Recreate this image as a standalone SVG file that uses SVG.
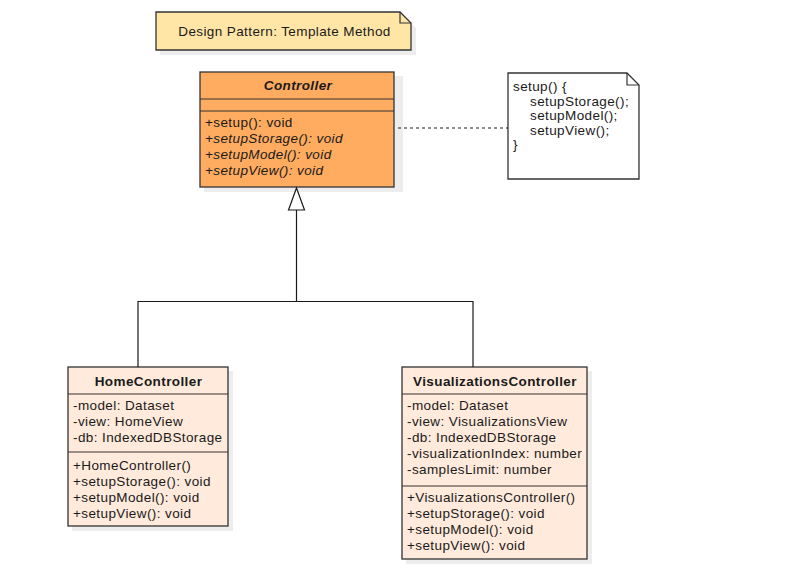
<svg xmlns="http://www.w3.org/2000/svg" width="787" height="579" viewBox="0 0 787 579">
  <defs>
    <style>
      text { font-family: "Liberation Sans", Arial, sans-serif; font-size: 13.5px; letter-spacing: 0.4px; fill: #1a1a1a; }
      .title { font-weight: bold; text-anchor: middle; }
      .abs { font-style: italic; }
      .box { stroke: #333333; stroke-width: 1.3; }
      .shadow { fill: #000000; opacity: 0.07; }
      .sep { stroke: #333333; stroke-width: 1; }
      .edge { fill: none; stroke: #1a1a1a; stroke-width: 1.2; }
    </style>
  </defs>
  <rect width="787" height="579" fill="#ffffff"/>

  <!-- pattern label note -->
  <g id="pattern-note">
    <path class="shadow" d="M160 16 H404 L416 28 V55 H160 Z"/>
    <path class="box" fill="#ffe6a6" d="M156 12 H400 L411 23 V50 H156 Z"/>
    <path d="M400 12 V23 H411" fill="none" stroke="#333333" stroke-width="1.2"/>
    <text x="284.5" y="36" text-anchor="middle">Design Pattern: Template Method</text>
  </g>

  <!-- abstract base class -->
  <g id="controller">
    <rect class="shadow" x="204" y="76" width="199" height="116"/>
    <rect class="box" fill="#ffab60" x="200" y="72" width="194" height="115"/>
    <line class="sep" x1="200" y1="99" x2="394" y2="99"/>
    <line class="sep" x1="200" y1="111" x2="394" y2="111"/>
    <text class="title abs" x="298" y="90">Controller</text>
    <text x="205" y="127">+setup(): void</text>
    <text class="abs" x="205" y="143">+setupStorage(): void</text>
    <text class="abs" x="205" y="159">+setupModel(): void</text>
    <text class="abs" x="205" y="175">+setupView(): void</text>
  </g>

  <!-- code note -->
  <g id="setup-note">
    <path class="box" fill="#ffffff" d="M508 73 H627 L639 85 V179 H508 Z"/>
    <path d="M627 73 V85 H639" fill="none" stroke="#333333" stroke-width="1.2"/>
    <text x="513" y="91">setup() {</text>
    <text x="530" y="105.5">setupStorage();</text>
    <text x="530" y="120">setupModel();</text>
    <text x="530" y="134.5">setupView();</text>
    <text x="513" y="149">}</text>
  </g>

  <!-- subclass: home -->
  <g id="home-controller">
    <rect class="shadow" x="72" y="371" width="161" height="160"/>
    <rect class="box" fill="#ffeadb" x="68" y="367" width="160" height="159"/>
    <line class="sep" x1="68" y1="394" x2="228" y2="394"/>
    <line class="sep" x1="68" y1="452" x2="228" y2="452"/>
    <text class="title" x="148.5" y="386">HomeController</text>
    <text x="73" y="410">-model: Dataset</text>
    <text x="73" y="426">-view: HomeView</text>
    <text x="73" y="442">-db: IndexedDBStorage</text>
    <text x="73" y="470">+HomeController()</text>
    <text x="73" y="486">+setupStorage(): void</text>
    <text x="73" y="502">+setupModel(): void</text>
    <text x="73" y="518">+setupView(): void</text>
  </g>

  <!-- subclass: visualizations -->
  <g id="visualizations-controller">
    <rect class="shadow" x="406" y="371" width="186" height="193"/>
    <rect class="box" fill="#ffeadb" x="402" y="367" width="185" height="192"/>
    <line class="sep" x1="402" y1="394" x2="587" y2="394"/>
    <line class="sep" x1="402" y1="486" x2="587" y2="486"/>
    <text class="title" x="495" y="386">VisualizationsController</text>
    <text x="407" y="410">-model: Dataset</text>
    <text x="407" y="426">-view: VisualizationsView</text>
    <text x="407" y="442">-db: IndexedDBStorage</text>
    <text x="407" y="458">-visualizationIndex: number</text>
    <text x="407" y="474">-samplesLimit: number</text>
    <text x="407" y="502">+VisualizationsController()</text>
    <text x="407" y="518">+setupStorage(): void</text>
    <text x="407" y="534">+setupModel(): void</text>
    <text x="407" y="550">+setupView(): void</text>
  </g>

  <!-- connectors -->
  <g id="connectors">
    <line class="edge" x1="398" y1="128" x2="508" y2="128" stroke-dasharray="3 3"/>
    <path class="edge" d="M138 367 V301.5 H473 V367"/>
    <path class="edge" d="M296.5 301.5 V210"/>
    <path d="M296.5 188 L288.5 210 H304.5 Z" fill="#ffffff" stroke="#1a1a1a" stroke-width="1.2"/>
  </g>
</svg>
